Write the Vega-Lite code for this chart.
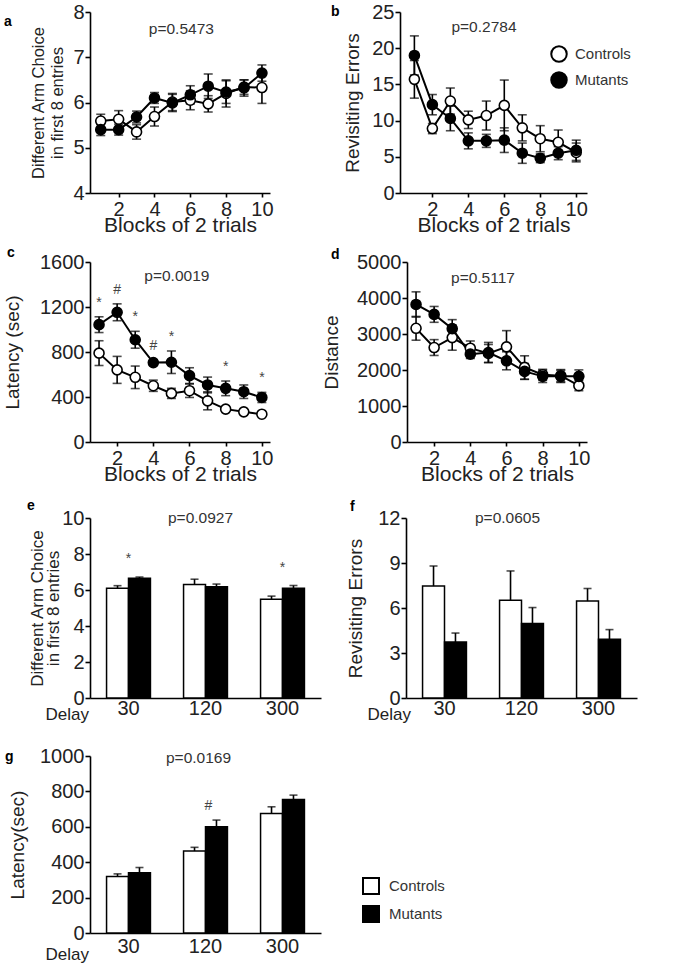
{
"$schema": "https://vega.github.io/schema/vega-lite/v6.json",
"padding": {"left": 2, "top": 2, "right": 5, "bottom": 5},
"datasets": {
"a": [
{"block":1,"group":"Controls","mean":5.59,"lo":5.44,"hi":5.74},
{"block":2,"group":"Controls","mean":5.63,"lo":5.44,"hi":5.82},
{"block":3,"group":"Controls","mean":5.35,"lo":5.19,"hi":5.51},
{"block":4,"group":"Controls","mean":5.69,"lo":5.48,"hi":5.90},
{"block":5,"group":"Controls","mean":6.01,"lo":5.82,"hi":6.20},
{"block":6,"group":"Controls","mean":6.05,"lo":5.84,"hi":6.26},
{"block":7,"group":"Controls","mean":5.97,"lo":5.79,"hi":6.15},
{"block":8,"group":"Controls","mean":6.20,"lo":5.90,"hi":6.50},
{"block":9,"group":"Controls","mean":6.34,"lo":6.18,"hi":6.50},
{"block":10,"group":"Controls","mean":6.33,"lo":5.98,"hi":6.68},
{"block":1,"group":"Mutants","mean":5.40,"lo":5.27,"hi":5.53},
{"block":2,"group":"Mutants","mean":5.40,"lo":5.28,"hi":5.52},
{"block":3,"group":"Mutants","mean":5.68,"lo":5.55,"hi":5.81},
{"block":4,"group":"Mutants","mean":6.10,"lo":5.98,"hi":6.22},
{"block":5,"group":"Mutants","mean":5.99,"lo":5.80,"hi":6.18},
{"block":6,"group":"Mutants","mean":6.17,"lo":5.97,"hi":6.37},
{"block":7,"group":"Mutants","mean":6.36,"lo":6.09,"hi":6.63},
{"block":8,"group":"Mutants","mean":6.23,"lo":5.98,"hi":6.48},
{"block":9,"group":"Mutants","mean":6.32,"lo":6.14,"hi":6.50},
{"block":10,"group":"Mutants","mean":6.65,"lo":6.47,"hi":6.83}
],
"b": [
{"block":1,"group":"Controls","mean":15.7,"lo":13.1,"hi":18.3},
{"block":2,"group":"Controls","mean":8.9,"lo":8.2,"hi":9.6},
{"block":3,"group":"Controls","mean":12.7,"lo":10.9,"hi":14.5},
{"block":4,"group":"Controls","mean":10.1,"lo":8.9,"hi":11.3},
{"block":5,"group":"Controls","mean":10.7,"lo":8.7,"hi":12.7},
{"block":6,"group":"Controls","mean":12.1,"lo":8.6,"hi":15.6},
{"block":7,"group":"Controls","mean":9.0,"lo":7.2,"hi":10.8},
{"block":8,"group":"Controls","mean":7.5,"lo":5.7,"hi":9.3},
{"block":9,"group":"Controls","mean":7.0,"lo":5.3,"hi":8.7},
{"block":10,"group":"Controls","mean":5.6,"lo":4.3,"hi":6.9},
{"block":1,"group":"Mutants","mean":19.0,"lo":16.3,"hi":21.7},
{"block":2,"group":"Mutants","mean":12.2,"lo":10.8,"hi":13.6},
{"block":3,"group":"Mutants","mean":10.3,"lo":8.6,"hi":12.0},
{"block":4,"group":"Mutants","mean":7.2,"lo":6.1,"hi":8.3},
{"block":5,"group":"Mutants","mean":7.2,"lo":6.3,"hi":8.1},
{"block":6,"group":"Mutants","mean":7.3,"lo":5.6,"hi":9.0},
{"block":7,"group":"Mutants","mean":5.5,"lo":4.1,"hi":6.9},
{"block":8,"group":"Mutants","mean":4.8,"lo":4.2,"hi":5.4},
{"block":9,"group":"Mutants","mean":5.5,"lo":4.6,"hi":6.4},
{"block":10,"group":"Mutants","mean":5.9,"lo":4.5,"hi":7.3}
],
"c": [
{"block":1,"group":"Controls","mean":790,"lo":680,"hi":900},
{"block":2,"group":"Controls","mean":641,"lo":521,"hi":761},
{"block":3,"group":"Controls","mean":575,"lo":475,"hi":675},
{"block":4,"group":"Controls","mean":500,"lo":450,"hi":550},
{"block":5,"group":"Controls","mean":432,"lo":387,"hi":477},
{"block":6,"group":"Controls","mean":456,"lo":396,"hi":516},
{"block":7,"group":"Controls","mean":366,"lo":286,"hi":446},
{"block":8,"group":"Controls","mean":292,"lo":277,"hi":307},
{"block":9,"group":"Controls","mean":268,"lo":248,"hi":288},
{"block":10,"group":"Controls","mean":247,"lo":232,"hi":262},
{"block":1,"group":"Mutants","mean":1043,"lo":973,"hi":1113,"sig":"*"},
{"block":2,"group":"Mutants","mean":1153,"lo":1078,"hi":1228,"sig":"#"},
{"block":3,"group":"Mutants","mean":909,"lo":834,"hi":984,"sig":"*"},
{"block":4,"group":"Mutants","mean":706,"lo":681,"hi":731,"sig":"#"},
{"block":5,"group":"Mutants","mean":709,"lo":609,"hi":809,"sig":"*"},
{"block":6,"group":"Mutants","mean":590,"lo":520,"hi":660},
{"block":7,"group":"Mutants","mean":507,"lo":437,"hi":577},
{"block":8,"group":"Mutants","mean":477,"lo":412,"hi":542,"sig":"*"},
{"block":9,"group":"Mutants","mean":447,"lo":387,"hi":507},
{"block":10,"group":"Mutants","mean":396,"lo":351,"hi":441,"sig":"*"}
],
"d": [
{"block":1,"group":"Controls","mean":3158,"lo":2828,"hi":3488},
{"block":2,"group":"Controls","mean":2624,"lo":2404,"hi":2844},
{"block":3,"group":"Controls","mean":2900,"lo":2550,"hi":3250},
{"block":4,"group":"Controls","mean":2606,"lo":2406,"hi":2806},
{"block":5,"group":"Controls","mean":2459,"lo":2209,"hi":2709},
{"block":6,"group":"Controls","mean":2643,"lo":2193,"hi":3093},
{"block":7,"group":"Controls","mean":2072,"lo":1742,"hi":2394},
{"block":8,"group":"Controls","mean":1869,"lo":1719,"hi":2019},
{"block":9,"group":"Controls","mean":1842,"lo":1672,"hi":2012},
{"block":10,"group":"Controls","mean":1565,"lo":1425,"hi":1705},
{"block":1,"group":"Mutants","mean":3821,"lo":3471,"hi":4171},
{"block":2,"group":"Mutants","mean":3545,"lo":3325,"hi":3765},
{"block":3,"group":"Mutants","mean":3149,"lo":2899,"hi":3399},
{"block":4,"group":"Mutants","mean":2440,"lo":2320,"hi":2560},
{"block":5,"group":"Mutants","mean":2486,"lo":2206,"hi":2766},
{"block":6,"group":"Mutants","mean":2256,"lo":2006,"hi":2506},
{"block":7,"group":"Mutants","mean":1961,"lo":1741,"hi":2181},
{"block":8,"group":"Mutants","mean":1823,"lo":1653,"hi":1993},
{"block":9,"group":"Mutants","mean":1823,"lo":1653,"hi":1993},
{"block":10,"group":"Mutants","mean":1823,"lo":1643,"hi":2003}
],
"e": [
{"delay":"30","group":"Controls","mean":6.1,"hi":6.24},
{"delay":"30","group":"Mutants","mean":6.65,"hi":6.72,"sig":"*"},
{"delay":"120","group":"Controls","mean":6.3,"hi":6.6},
{"delay":"120","group":"Mutants","mean":6.18,"hi":6.33},
{"delay":"300","group":"Controls","mean":5.49,"hi":5.66},
{"delay":"300","group":"Mutants","mean":6.1,"hi":6.25,"sig":"*"}
],
"f": [
{"delay":"30","group":"Controls","mean":7.46,"hi":8.8},
{"delay":"30","group":"Mutants","mean":3.73,"hi":4.33},
{"delay":"120","group":"Controls","mean":6.52,"hi":8.47},
{"delay":"120","group":"Mutants","mean":4.96,"hi":6.03},
{"delay":"300","group":"Controls","mean":6.46,"hi":7.3},
{"delay":"300","group":"Mutants","mean":3.91,"hi":4.56}
],
"g": [
{"delay":"30","group":"Controls","mean":319,"hi":334},
{"delay":"30","group":"Mutants","mean":341,"hi":370},
{"delay":"120","group":"Controls","mean":463,"hi":484},
{"delay":"120","group":"Mutants","mean":600,"hi":638,"sig":"#"},
{"delay":"300","group":"Controls","mean":675,"hi":713},
{"delay":"300","group":"Mutants","mean":754,"hi":779}
]
},
"config": {
"font": "Liberation Sans",
"view": {"stroke": null},
"axis": {"domainColor": "#000", "domainWidth": 1.6, "tickColor": "#000", "tickWidth": 1.6, "tickSize": 5, "labelFontSize": 20, "labelColor": "#222", "titleColor": "#222", "titleFontWeight": "normal", "titleFontSize": 19, "titleBaseline": "alphabetic", "grid": false, "labelFont": "Liberation Sans", "titleFont": "Liberation Sans", "labelOverlap": false, "labelBound": false, "labelFlush": false, "format": "d"},
"axisY": {"labelPadding": 1},
"title": {"fontSize": 14, "fontWeight": "bold", "anchor": "start", "frame": "group", "color": "#000", "baseline": "alphabetic", "offset": 0},
"text": {"font": "Liberation Sans"}
},
"resolve": {"scale": {"fill": "independent"}, "legend": {"fill": "independent"}},
"spacing": 11,
"vconcat": [
{
"hconcat": [
{
"width": 180, "height": 181,
"title": {"text": "a", "dx": -86, "dy": 31},
"layer": [
{"data": {"name": "a"}, "mark": {"type": "line", "color": "#000", "strokeWidth": 2}, "encoding": {"x": {"field": "block", "type": "quantitative", "scale": {"domain": [0.4, 10.45], "nice": false, "zero": false}, "axis": {"values": [2,4,6,8,10], "tickCount": 20, "labelOverlap": false, "title": "Blocks of 2 trials", "titleFontSize": 21, "titleY": 38, "tickSize": 4, "labelPadding": 2}}, "y": {"field": "mean", "type": "quantitative", "scale": {"domain": [4, 8], "nice": false, "zero": false}, "axis": {"values": [4,5,6,7,8], "tickCount": 20, "labelOverlap": false, "title": ["Different Arm Choice", "in first 8 entries"], "titleFontSize": 16.5, "titleLineHeight": 19.5, "titleX": -47}}, "detail": {"field": "group"}}},
{"data": {"name": "a"}, "mark": {"type": "rule", "color": "#000", "strokeWidth": 1.6}, "encoding": {"x": {"field": "block", "type": "quantitative"}, "y": {"field": "lo", "type": "quantitative"}, "y2": {"field": "hi"}}},
{"data": {"name": "a"}, "mark": {"type": "tick", "orient": "horizontal", "size": 9, "thickness": 1.6, "color": "#000"}, "encoding": {"x": {"field": "block", "type": "quantitative"}, "y": {"field": "lo", "type": "quantitative"}}},
{"data": {"name": "a"}, "mark": {"type": "tick", "orient": "horizontal", "size": 9, "thickness": 1.6, "color": "#000"}, "encoding": {"x": {"field": "block", "type": "quantitative"}, "y": {"field": "hi", "type": "quantitative"}}},
{"data": {"name": "a"}, "mark": {"type": "point", "shape": "circle", "size": 100, "filled": true, "stroke": "#000", "strokeWidth": 1.6, "opacity": 1}, "encoding": {"x": {"field": "block", "type": "quantitative"}, "y": {"field": "mean", "type": "quantitative"}, "fill": {"field": "group", "type": "nominal", "scale": {"domain": ["Controls", "Mutants"], "range": ["#fff", "#000"]}, "legend": null}}},
{"data": {"values": [{"label": "p=0.5473"}]}, "mark": {"type": "text", "fontSize": 15.5, "color": "#333"}, "encoding": {"text": {"field": "label", "type": "nominal"}, "x": {"datum": 5.5, "type": "quantitative"}, "y": {"datum": 7.62, "type": "quantitative"}}}
]
},
{
"width": 187, "height": 181,
"title": {"text": "b", "dx": -69, "dy": 21},
"layer": [
{"data": {"name": "b"}, "mark": {"type": "line", "color": "#000", "strokeWidth": 2}, "encoding": {"x": {"field": "block", "type": "quantitative", "scale": {"domain": [0.2, 10.6], "nice": false, "zero": false}, "axis": {"values": [2,4,6,8,10], "tickCount": 20, "labelOverlap": false, "title": "Blocks of 2 trials", "titleFontSize": 21, "titleY": 38, "tickSize": 4, "labelPadding": 2}}, "y": {"field": "mean", "type": "quantitative", "scale": {"domain": [0, 25], "nice": false}, "axis": {"values": [0,5,10,15,20,25], "tickCount": 20, "labelOverlap": false, "title": "Revisiting Errors", "titleX": -42}}, "detail": {"field": "group"}}},
{"data": {"name": "b"}, "mark": {"type": "rule", "color": "#000", "strokeWidth": 1.6}, "encoding": {"x": {"field": "block", "type": "quantitative"}, "y": {"field": "lo", "type": "quantitative"}, "y2": {"field": "hi"}}},
{"data": {"name": "b"}, "mark": {"type": "tick", "orient": "horizontal", "size": 9, "thickness": 1.6, "color": "#000"}, "encoding": {"x": {"field": "block", "type": "quantitative"}, "y": {"field": "lo", "type": "quantitative"}}},
{"data": {"name": "b"}, "mark": {"type": "tick", "orient": "horizontal", "size": 9, "thickness": 1.6, "color": "#000"}, "encoding": {"x": {"field": "block", "type": "quantitative"}, "y": {"field": "hi", "type": "quantitative"}}},
{"data": {"name": "b"}, "mark": {"type": "point", "shape": "circle", "size": 100, "filled": true, "stroke": "#000", "strokeWidth": 1.6, "opacity": 1}, "encoding": {"x": {"field": "block", "type": "quantitative"}, "y": {"field": "mean", "type": "quantitative"}, "fill": {"field": "group", "type": "nominal", "scale": {"domain": ["Controls", "Mutants"], "range": ["#fff", "#000"]}, "legend": {"orient": "none", "legendX": 150, "legendY": 33, "title": null, "symbolType": "circle", "symbolSize": 240, "symbolStrokeColor": "#000", "symbolStrokeWidth": 2, "labelFontSize": 15, "labelColor": "#333", "labelFont": "Liberation Sans", "rowPadding": 2, "labelOffset": 7}}}},
{"data": {"values": [{"label": "p=0.2784"}]}, "mark": {"type": "text", "fontSize": 15.5, "color": "#333"}, "encoding": {"text": {"field": "label", "type": "nominal"}, "x": {"datum": 4.87, "type": "quantitative"}, "y": {"datum": 22.9, "type": "quantitative"}}}
]
}
],
"spacing": 130,
"bounds": "flush",
"resolve": {"scale": {"fill": "independent"}, "legend": {"fill": "independent"}}
},
{
"vconcat": [
{
"hconcat": [
{
"width": 180, "height": 180,
"title": {"text": "c", "dx": -83, "dy": 12},
"layer": [
{"data": {"name": "c"}, "mark": {"type": "line", "color": "#000", "strokeWidth": 2}, "encoding": {"x": {"field": "block", "type": "quantitative", "scale": {"domain": [0.5, 10.45], "nice": false, "zero": false}, "axis": {"values": [2,4,6,8,10], "tickCount": 20, "labelOverlap": false, "title": "Blocks of 2 trials", "titleFontSize": 21, "titleY": 38, "tickSize": 4, "labelPadding": 2}}, "y": {"field": "mean", "type": "quantitative", "scale": {"domain": [0, 1600], "nice": false}, "axis": {"values": [0,400,800,1200,1600], "tickCount": 20, "labelOverlap": false, "title": "Latency (sec)", "titleX": -72}}, "detail": {"field": "group"}}},
{"data": {"name": "c"}, "mark": {"type": "rule", "color": "#000", "strokeWidth": 1.6}, "encoding": {"x": {"field": "block", "type": "quantitative"}, "y": {"field": "lo", "type": "quantitative"}, "y2": {"field": "hi"}}},
{"data": {"name": "c"}, "mark": {"type": "tick", "orient": "horizontal", "size": 9, "thickness": 1.6, "color": "#000"}, "encoding": {"x": {"field": "block", "type": "quantitative"}, "y": {"field": "lo", "type": "quantitative"}}},
{"data": {"name": "c"}, "mark": {"type": "tick", "orient": "horizontal", "size": 9, "thickness": 1.6, "color": "#000"}, "encoding": {"x": {"field": "block", "type": "quantitative"}, "y": {"field": "hi", "type": "quantitative"}}},
{"data": {"name": "c"}, "mark": {"type": "point", "shape": "circle", "size": 100, "filled": true, "stroke": "#000", "strokeWidth": 1.6, "opacity": 1}, "encoding": {"x": {"field": "block", "type": "quantitative"}, "y": {"field": "mean", "type": "quantitative"}, "fill": {"field": "group", "type": "nominal", "scale": {"domain": ["Controls", "Mutants"], "range": ["#fff", "#000"]}, "legend": null}}},
{"data": {"name": "c"}, "transform": [{"filter": "datum.sig"}], "mark": {"type": "text", "fontSize": 14, "color": "#444", "dy": -14}, "encoding": {"x": {"field": "block", "type": "quantitative"}, "text": {"field": "sig"}, "y": {"field": "hi", "type": "quantitative"}}},
{"data": {"values": [{"label": "p=0.0019"}]}, "mark": {"type": "text", "fontSize": 15.5, "color": "#333"}, "encoding": {"text": {"field": "label", "type": "nominal"}, "x": {"datum": 5.3, "type": "quantitative"}, "y": {"datum": 1475, "type": "quantitative"}}}
]
},
{
"width": 180, "height": 180,
"title": {"text": "d", "dx": -76, "dy": 14},
"layer": [
{"data": {"name": "d"}, "mark": {"type": "line", "color": "#000", "strokeWidth": 2}, "encoding": {"x": {"field": "block", "type": "quantitative", "scale": {"domain": [0.5, 10.45], "nice": false, "zero": false}, "axis": {"values": [2,4,6,8,10], "tickCount": 20, "labelOverlap": false, "title": "Blocks of 2 trials", "titleFontSize": 21, "titleY": 38, "tickSize": 4, "labelPadding": 2}}, "y": {"field": "mean", "type": "quantitative", "scale": {"domain": [0, 5000], "nice": false}, "axis": {"values": [0,1000,2000,3000,4000,5000], "tickCount": 20, "labelOverlap": false, "title": "Distance", "titleX": -70}}, "detail": {"field": "group"}}},
{"data": {"name": "d"}, "mark": {"type": "rule", "color": "#000", "strokeWidth": 1.6}, "encoding": {"x": {"field": "block", "type": "quantitative"}, "y": {"field": "lo", "type": "quantitative"}, "y2": {"field": "hi"}}},
{"data": {"name": "d"}, "mark": {"type": "tick", "orient": "horizontal", "size": 9, "thickness": 1.6, "color": "#000"}, "encoding": {"x": {"field": "block", "type": "quantitative"}, "y": {"field": "lo", "type": "quantitative"}}},
{"data": {"name": "d"}, "mark": {"type": "tick", "orient": "horizontal", "size": 9, "thickness": 1.6, "color": "#000"}, "encoding": {"x": {"field": "block", "type": "quantitative"}, "y": {"field": "hi", "type": "quantitative"}}},
{"data": {"name": "d"}, "mark": {"type": "point", "shape": "circle", "size": 100, "filled": true, "stroke": "#000", "strokeWidth": 1.6, "opacity": 1}, "encoding": {"x": {"field": "block", "type": "quantitative"}, "y": {"field": "mean", "type": "quantitative"}, "fill": {"field": "group", "type": "nominal", "scale": {"domain": ["Controls", "Mutants"], "range": ["#fff", "#000"]}, "legend": null}}},
{"data": {"values": [{"label": "p=0.5117"}]}, "mark": {"type": "text", "fontSize": 15.5, "color": "#333"}, "encoding": {"text": {"field": "label", "type": "nominal"}, "x": {"datum": 4.7, "type": "quantitative"}, "y": {"datum": 4558, "type": "quantitative"}}}
]
}
],
"spacing": 137,
"bounds": "flush",
"resolve": {"scale": {"fill": "independent"}, "legend": {"fill": "independent"}}
},
{
"vconcat": [
{
"hconcat": [
{
"width": 231, "height": 180,
"title": {"text": "e", "dx": -63, "dy": 9},
"data": {"name": "e"},
"encoding": {"x": {"field": "delay", "type": "nominal", "sort": ["30","120","300"], "scale": {"paddingInner": 0.43, "paddingOuter": 0.215}, "axis": {"title": "Delay", "titleFontSize": 17, "titleX": -45, "titleY": 21, "titleAlign": "left", "ticks": false, "labelAngle": 0, "labelPadding": 0}}},
"layer": [
{"mark": {"type": "bar", "stroke": "#000", "strokeWidth": 1.5}, "encoding": {"xOffset": {"field": "group", "scale": {"domain": ["Controls","Mutants"], "paddingInner": 0, "paddingOuter": 0}}, "y": {"field": "mean", "type": "quantitative", "scale": {"domain": [0, 10], "nice": false}, "axis": {"values": [0,2,4,6,8,10], "tickCount": 20, "labelOverlap": false, "title": ["Different Arm Choice", "in first 8 entries"], "titleFontSize": 17, "titleLineHeight": 16.5, "titleX": -48}}, "fill": {"field": "group", "type": "nominal", "scale": {"domain": ["Controls", "Mutants"], "range": ["#fff", "#000"]}, "legend": null}}},
{"mark": {"type": "rule", "color": "#000", "strokeWidth": 1.6}, "encoding": {"xOffset": {"field": "group", "scale": {"domain": ["Controls","Mutants"], "paddingInner": 0, "paddingOuter": 0}}, "y": {"field": "mean", "type": "quantitative"}, "y2": {"field": "hi"}}},
{"mark": {"type": "tick", "orient": "horizontal", "size": 8, "thickness": 1.6, "color": "#000"}, "encoding": {"xOffset": {"field": "group", "scale": {"domain": ["Controls","Mutants"], "paddingInner": 0, "paddingOuter": 0}}, "y": {"field": "hi", "type": "quantitative"}}},
{"transform": [{"filter": "datum.sig"}], "mark": {"type": "text", "fontSize": 14, "color": "#444", "dy": -18}, "encoding": {"text": {"field": "sig"}, "y": {"field": "hi", "type": "quantitative"}}},
{"data": {"values": [{"label": "p=0.0927"}]}, "mark": {"type": "text", "fontSize": 15.5, "color": "#333", "dx": -5}, "encoding": {"text": {"field": "label"}, "x": {"datum": "120"}, "y": {"datum": 10}}}
]
},
{
"width": 231, "height": 180,
"title": {"text": "f", "dx": -56, "dy": 10},
"data": {"name": "f"},
"encoding": {"x": {"field": "delay", "type": "nominal", "sort": ["30","120","300"], "scale": {"paddingInner": 0.43, "paddingOuter": 0.215}, "axis": {"title": "Delay", "titleFontSize": 17, "titleX": -39, "titleY": 21, "titleAlign": "left", "ticks": false, "labelAngle": 0, "labelPadding": 0}}},
"layer": [
{"mark": {"type": "bar", "stroke": "#000", "strokeWidth": 1.5}, "encoding": {"xOffset": {"field": "group", "scale": {"domain": ["Controls","Mutants"], "paddingInner": 0, "paddingOuter": 0}}, "y": {"field": "mean", "type": "quantitative", "scale": {"domain": [0, 12], "nice": false}, "axis": {"values": [0,3,6,9,12], "tickCount": 20, "labelOverlap": false, "title": "Revisiting Errors", "titleX": -45}}, "fill": {"field": "group", "type": "nominal", "scale": {"domain": ["Controls", "Mutants"], "range": ["#fff", "#000"]}, "legend": null}}},
{"mark": {"type": "rule", "color": "#000", "strokeWidth": 1.6}, "encoding": {"xOffset": {"field": "group", "scale": {"domain": ["Controls","Mutants"], "paddingInner": 0, "paddingOuter": 0}}, "y": {"field": "mean", "type": "quantitative"}, "y2": {"field": "hi"}}},
{"mark": {"type": "tick", "orient": "horizontal", "size": 8, "thickness": 1.6, "color": "#000"}, "encoding": {"xOffset": {"field": "group", "scale": {"domain": ["Controls","Mutants"], "paddingInner": 0, "paddingOuter": 0}}, "y": {"field": "hi", "type": "quantitative"}}},
{"data": {"values": [{"label": "p=0.0605"}]}, "mark": {"type": "text", "fontSize": 15.5, "color": "#333", "dx": -14}, "encoding": {"text": {"field": "label"}, "x": {"datum": "120"}, "y": {"datum": 12}}}
]
}
],
"spacing": 85,
"bounds": "flush",
"resolve": {"scale": {"fill": "independent"}, "legend": {"fill": "independent"}}
},
{
"width": 231, "height": 177,
"title": {"text": "g", "dx": -85, "dy": 22},
"data": {"name": "g"},
"encoding": {"x": {"field": "delay", "type": "nominal", "sort": ["30","120","300"], "scale": {"paddingInner": 0.43, "paddingOuter": 0.215}, "axis": {"title": "Delay", "titleFontSize": 17, "titleX": -45, "titleY": 26, "titleAlign": "left", "ticks": false, "labelAngle": 0, "labelPadding": 3}}},
"layer": [
{"mark": {"type": "bar", "stroke": "#000", "strokeWidth": 1.5}, "encoding": {"xOffset": {"field": "group", "scale": {"domain": ["Controls","Mutants"], "paddingInner": 0, "paddingOuter": 0}}, "y": {"field": "mean", "type": "quantitative", "scale": {"domain": [0, 1000], "nice": false}, "axis": {"values": [0,200,400,600,800,1000], "tickCount": 20, "labelOverlap": false, "title": "Latency(sec)", "titleX": -67}}, "fill": {"field": "group", "type": "nominal", "scale": {"domain": ["Controls", "Mutants"], "range": ["#fff", "#000"]}, "legend": {"orient": "none", "legendX": 272, "legendY": 121, "title": null, "symbolType": "square", "symbolSize": 256, "symbolStrokeColor": "#000", "symbolStrokeWidth": 2, "labelFontSize": 15, "labelColor": "#333", "labelFont": "Liberation Sans", "rowPadding": 4, "labelOffset": 9}}}},
{"mark": {"type": "rule", "color": "#000", "strokeWidth": 1.6}, "encoding": {"xOffset": {"field": "group", "scale": {"domain": ["Controls","Mutants"], "paddingInner": 0, "paddingOuter": 0}}, "y": {"field": "mean", "type": "quantitative"}, "y2": {"field": "hi"}}},
{"mark": {"type": "tick", "orient": "horizontal", "size": 8, "thickness": 1.6, "color": "#000"}, "encoding": {"xOffset": {"field": "group", "scale": {"domain": ["Controls","Mutants"], "paddingInner": 0, "paddingOuter": 0}}, "y": {"field": "hi", "type": "quantitative"}}},
{"transform": [{"filter": "datum.sig"}], "mark": {"type": "text", "fontSize": 14, "color": "#444", "dy": -14, "dx": 3}, "encoding": {"text": {"field": "sig"}, "y": {"field": "hi", "type": "quantitative"}}},
{"data": {"values": [{"label": "p=0.0169"}]}, "mark": {"type": "text", "fontSize": 15.5, "color": "#333", "dx": -7}, "encoding": {"text": {"field": "label"}, "x": {"datum": "120"}, "y": {"datum": 990}}}
]
}
],
"spacing": 24,
"resolve": {"scale": {"fill": "independent"}, "legend": {"fill": "independent"}}
}
],
"spacing": 15,
"resolve": {"scale": {"fill": "independent"}, "legend": {"fill": "independent"}}
}
]
}
